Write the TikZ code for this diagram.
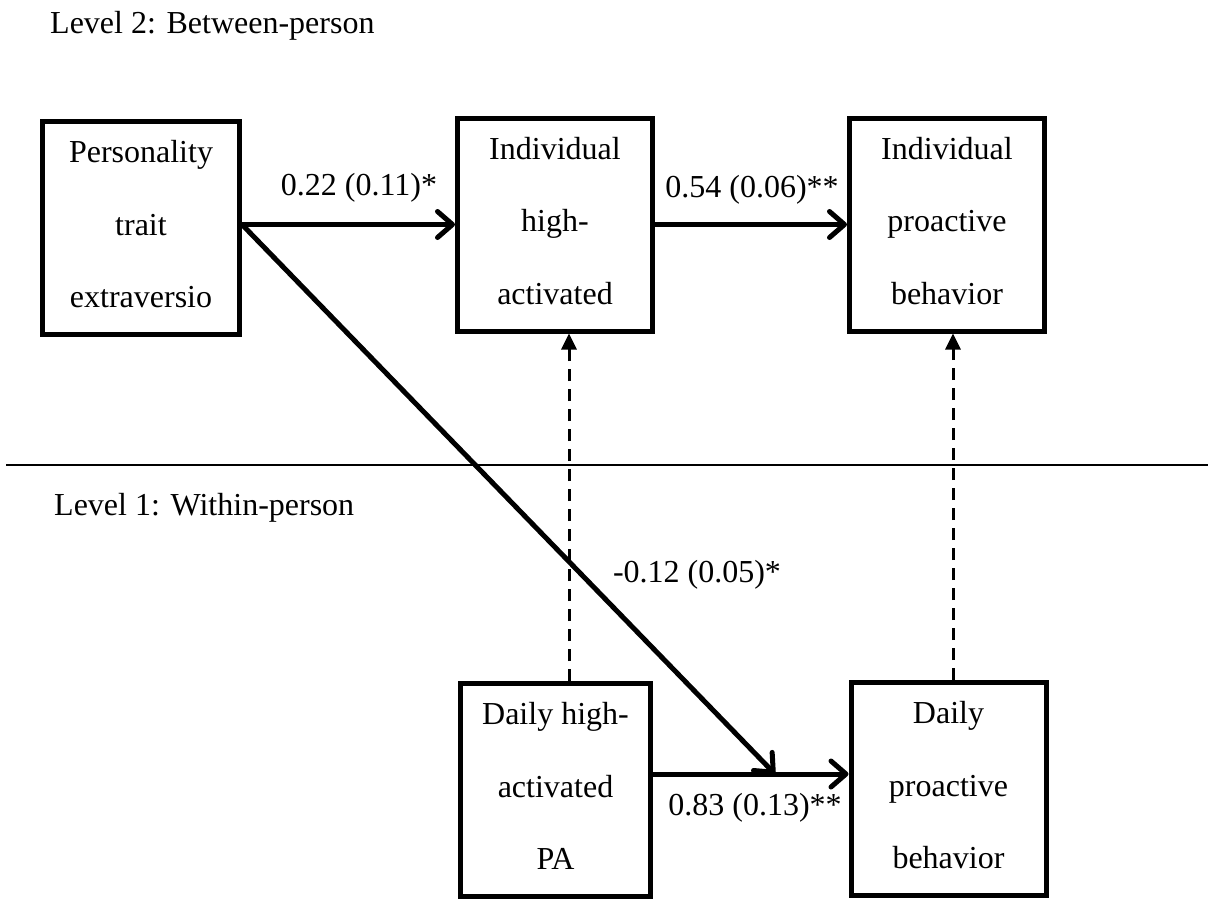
\documentclass[tikz,border=0pt]{standalone}
\usepackage{fontspec}
\setmainfont{Liberation Serif}
\usetikzlibrary{arrows.meta}
\begin{document}
\begin{tikzpicture}[x=1pt,y=-1pt,
  box/.style={draw, line width=5pt, minimum width=195pt, minimum height=213pt,
    inner sep=0pt, align=center, text depth=8pt,
    font=\fontsize{32}{72.5}\selectfont},
  lbl/.style={anchor=base, inner sep=0pt, font=\fontsize{32}{38}\selectfont},
  solidarrow/.style={line width=5pt, -{Straight Barb[length=15pt,width=26pt,round]}},
  dasharrow/.style={line width=3pt, dash pattern=on 12pt off 8pt, -{Triangle[length=16pt,width=15pt]}},
  sep/.style={line width=2pt}]
\useasboundingbox (0,0) rectangle (1208,898);
\node[box, minimum width=197pt] (P) at (141,228) {Personality\\trait\\extraversio};
\node[box] (IH) at (555,224.5) {Individual\\high-\\activated};
\node[box] (IP) at (947,224.5) {Individual\\proactive\\behavior};
\node[box, minimum width=190pt] (DH) at (555.5,790) {Daily high-\\activated\\PA};
\node[box] (DP) at (948.5,789) {Daily\\proactive\\behavior};
\coordinate (d) at (775,774);
\coordinate (xl) at (569,0);
\coordinate (xr) at (953,0);
\coordinate (sl) at (6,465);
\coordinate (sr) at (1208,465);
\node[lbl, anchor=base west] (L2) at (50,33) {Level 2: Between-person};
\node[lbl, anchor=base west] (L1) at (54,515) {Level 1: Within-person};
\draw[sep] (sl) -- (sr);
\draw[solidarrow] (P.east |- IH.west) -- (IH.west);
\draw[solidarrow] (IH.east) -- (IP.west);
\draw[solidarrow] (P.east |- IH.west) -- (d);
\draw[solidarrow] (DH.east |- d) -- (DP.west |- d);
\draw[dasharrow] (DH.north -| xl) -- (IH.south -| xl);
\draw[dasharrow] (DP.north -| xr) -- (IP.south -| xr);
\node[lbl] (a1) at (359,195) {0.22 (0.11)*};
\node[lbl] (a2) at (752,197) {0.54 (0.06)**};
\node[lbl] (a3) at (697,582) {-0.12 (0.05)*};
\node[lbl] (a4) at (755,815) {0.83 (0.13)**};
\end{tikzpicture}
\end{document}
